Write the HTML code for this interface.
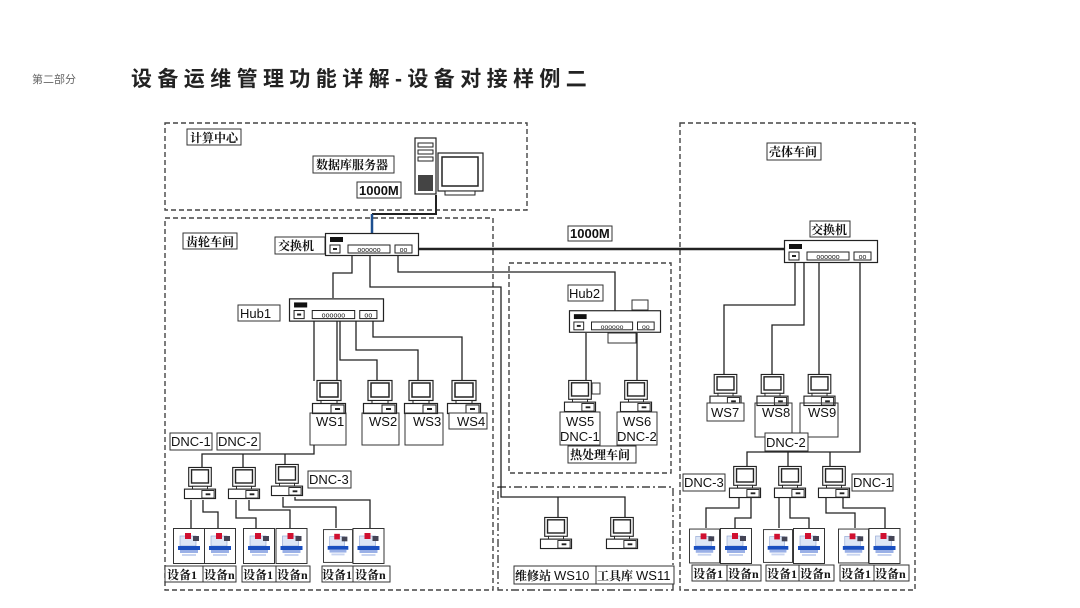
<!DOCTYPE html>
<html><head><meta charset="utf-8"><style>
html,body{margin:0;padding:0;background:#fff;width:1080px;height:608px;overflow:hidden}
svg{display:block}
.t{font-family:"Liberation Serif","Noto Serif CJK SC",serif;font-size:12px;font-weight:bold;fill:#111}
.e{font-family:"Liberation Sans","Noto Sans CJK SC",sans-serif;font-size:13px;fill:#111}
.lb{fill:#fff;stroke:#333;stroke-width:1}
.ln{fill:none;stroke:#222;stroke-width:1.3}
.dash{fill:none;stroke:#444;stroke-width:1.4;stroke-dasharray:5 3}
</style></head><body>
<svg width="1080" height="608" viewBox="0 0 1080 608" xmlns="http://www.w3.org/2000/svg">
<defs>
<symbol id="pc" viewBox="0 0 34 34" overflow="visible">
<rect x="5" y="0.5" width="24" height="20" fill="#fff" stroke="#222" stroke-width="1.2"/>
<rect x="8" y="3" width="18" height="14" fill="#fff" stroke="#222" stroke-width="1.5"/>
<rect x="9" y="20.5" width="16" height="3" fill="#fff" stroke="#222"/>
<rect x="0.5" y="23.5" width="33" height="10" fill="#fff" stroke="#222" stroke-width="1.2"/>
<rect x="19" y="25" width="13" height="8" fill="#fff" stroke="#222"/>
<rect x="23" y="28" width="5" height="2" fill="#222"/>
</symbol>
<symbol id="mc" viewBox="0 0 32 36" overflow="visible">
<rect x="0.5" y="0.5" width="31" height="35" fill="#fff" stroke="#333"/>
<rect x="7" y="8" width="16" height="10" fill="#dde6f6" stroke="#8aa0d0" stroke-width="0.6"/>
<rect x="12" y="5" width="6" height="6" fill="#d01030"/>
<rect x="20" y="8" width="6" height="5" fill="#445"/>
<rect x="5" y="18" width="22" height="4" fill="#1a4fc0"/>
<rect x="7" y="22" width="18" height="3" fill="#9ab0e6"/>
<rect x="9" y="26" width="14" height="2" fill="#c8d4f0"/>
</symbol>
<symbol id="sw" viewBox="0 0 94 23" overflow="visible">
<rect x="0.5" y="0.5" width="93" height="22" fill="#fff" stroke="#222" stroke-width="1.2"/>
<rect x="5" y="4" width="13" height="5" fill="#111"/>
<rect x="5" y="12" width="10" height="8" fill="#fff" stroke="#222"/>
<rect x="8" y="15" width="4" height="2" fill="#222"/>
<rect x="23" y="12" width="42" height="8" fill="#fff" stroke="#222"/>
<text x="44" y="19" font-size="7" text-anchor="middle" font-family="Liberation Sans" fill="#222">oooooo</text>
<rect x="70" y="12" width="17" height="8" fill="#fff" stroke="#222"/>
<text x="78.5" y="19" font-size="7" text-anchor="middle" font-family="Liberation Sans" fill="#222">oo</text>
</symbol>
</defs>

<text x="32" y="83" font-family="Liberation Sans,Noto Sans CJK SC,sans-serif" font-size="11" fill="#666">第二部分</text>
<text x="131" y="86" font-family="Liberation Sans,Noto Sans CJK SC,sans-serif" font-size="21" font-weight="bold" letter-spacing="5.4" fill="#222">设备运维管理功能详解-设备对接样例二</text>

<!-- dashed regions -->
<rect class="dash" x="165" y="123" width="362" height="87"/>
<rect class="dash" x="165" y="218" width="328" height="372"/>
<rect class="dash" x="509" y="263" width="162" height="210"/>
<rect class="dash" x="498" y="487" width="175" height="103" style="stroke-dasharray:8 3 2 3"/>
<rect class="dash" x="680" y="123" width="235" height="467"/>

<!-- 计算中心 -->
<rect class="lb" x="187" y="129" width="54" height="16"/><text class="t" x="190" y="142">计算中心</text>
<rect class="lb" x="313" y="156" width="81" height="17"/><text class="t" x="316" y="169">数据库服务器</text>
<rect class="lb" x="357" y="182" width="44" height="16"/><text class="e" x="359" y="195" font-weight="bold" font-size="12">1000M</text>
<rect x="415" y="138" width="21" height="56" fill="#fff" stroke="#222" stroke-width="1.2"/>
<rect x="418" y="143" width="15" height="4" fill="#fff" stroke="#222"/>
<rect x="418" y="150" width="15" height="4" fill="#fff" stroke="#222"/>
<rect x="418" y="157" width="15" height="4" fill="#fff" stroke="#222"/>
<rect x="418" y="175" width="15" height="16" fill="#444"/>
<rect x="438" y="153" width="45" height="38" fill="#fff" stroke="#222" stroke-width="1.2"/>
<rect x="442" y="157" width="36" height="29" fill="#fff" stroke="#222" stroke-width="1.5"/>
<rect x="445" y="191" width="30" height="4" fill="#fff" stroke="#222"/>
<polyline class="ln" points="436,195 436,214 372,214" style="stroke-width:2"/>
<line x1="372" y1="214" x2="372" y2="234" stroke="#1d4f8f" stroke-width="2.5"/>

<!-- 齿轮车间 -->
<rect class="lb" x="183" y="233" width="54" height="16"/><text class="t" x="186" y="246">齿轮车间</text>
<rect class="lb" x="275" y="237" width="50" height="17"/><text class="t" x="278" y="250">交换机</text>
<use href="#sw" x="325" y="233" width="94" height="23"/>
<line x1="418" y1="249" x2="785" y2="249" stroke="#222" stroke-width="2.5"/>
<rect class="lb" x="568" y="226" width="44" height="15"/><text class="e" x="570" y="238" font-weight="bold" font-size="12">1000M</text>

<polyline class="ln" points="352,256 352,273 333,273 333,298"/>
<polyline class="ln" points="370,256 370,287 501,287 501,497 625,497 625,518"/>
<line class="ln" x1="558" y1="497" x2="558" y2="518"/>
<polyline class="ln" points="398,256 398,272 615,272 615,311"/>

<rect class="lb" x="238" y="305" width="42" height="16"/><text class="e" x="240" y="318">Hub1</text>
<use href="#sw" x="289" y="298" width="95" height="24"/>
<polyline class="ln" points="314,321 314,381"/>
<polyline class="ln" points="337,321 337,381"/>
<polyline class="ln" points="340,321 340,360 377,360 377,381"/>
<polyline class="ln" points="356,321 356,350 418,350 418,381"/>
<polyline class="ln" points="373,321 373,337 462,337 462,381"/>
<use href="#pc" x="312" y="380" width="34" height="34"/>
<use href="#pc" x="363" y="380" width="34" height="34"/>
<use href="#pc" x="404" y="380" width="34" height="34"/>
<use href="#pc" x="447" y="380" width="34" height="34"/>
<rect class="lb" x="310" y="413" width="36" height="32" style="fill:none"/><text class="e" x="316" y="426" font-size="14">WS1</text>
<rect class="lb" x="362" y="413" width="37" height="32" style="fill:none"/><text class="e" x="369" y="426" font-size="14">WS2</text>
<rect class="lb" x="405" y="413" width="38" height="32" style="fill:none"/><text class="e" x="413" y="426" font-size="14">WS3</text>
<rect class="lb" x="449" y="413" width="38" height="16"/><text class="e" x="457" y="426" font-size="14">WS4</text>

<polyline class="ln" points="314,445 314,454 202,454 202,467"/>
<line class="ln" x1="243" y1="454" x2="243" y2="467"/>
<line class="ln" x1="285" y1="454" x2="285" y2="464"/>
<rect class="lb" x="170" y="433" width="42" height="17"/><text class="e" x="171" y="446">DNC-1</text>
<rect class="lb" x="217" y="433" width="43" height="17"/><text class="e" x="218" y="446">DNC-2</text>
<rect class="lb" x="308" y="471" width="43" height="17"/><text class="e" x="309" y="484">DNC-3</text>
<use href="#pc" x="184" y="466" width="32" height="34"/>
<use href="#pc" x="228" y="466" width="32" height="34"/>
<use href="#pc" x="271" y="463" width="32" height="34"/>
<polyline class="ln" points="191,500 191,528"/>
<polyline class="ln" points="203,500 203,512 218,512 218,528"/>
<polyline class="ln" points="236,500 236,518 256,518 256,528"/>
<polyline class="ln" points="249,500 249,510 290,510 290,528"/>
<polyline class="ln" points="283,497 283,507 336,507 336,528"/>
<polyline class="ln" points="295,497 295,500 370,500 370,528"/>
<use href="#mc" x="173" y="528" width="32" height="36"/>
<use href="#mc" x="204" y="528" width="32" height="36"/>
<use href="#mc" x="243" y="528" width="32" height="36"/>
<use href="#mc" x="275" y="528" width="33" height="36"/>
<use href="#mc" x="323" y="528" width="30" height="36"/>
<use href="#mc" x="352" y="528" width="33" height="36"/>
<g>
<rect class="lb" x="165" y="566" width="38" height="16"/><text class="t" x="167" y="579">设备1</text>
<rect class="lb" x="203" y="566" width="33" height="16"/><text class="t" x="204" y="579">设备n</text>
<rect class="lb" x="242" y="566" width="34" height="16"/><text class="t" x="243" y="579">设备1</text>
<rect class="lb" x="276" y="566" width="34" height="16"/><text class="t" x="277" y="579">设备n</text>
<rect class="lb" x="322" y="566" width="31" height="16"/><text class="t" x="322" y="579">设备1</text>
<rect class="lb" x="353" y="566" width="37" height="16"/><text class="t" x="355" y="579">设备n</text>
</g>

<!-- 热处理车间 -->
<rect class="lb" x="568" y="285" width="35" height="16"/><text class="e" x="569" y="298">Hub2</text>
<rect class="lb" x="632" y="300" width="16" height="10"/>
<use href="#sw" x="569" y="310" width="92" height="23"/>
<rect class="lb" x="608" y="333" width="28" height="10" style="fill:none"/>
<line class="ln" x1="586" y1="333" x2="586" y2="381"/>
<line class="ln" x1="637" y1="333" x2="637" y2="381"/>
<rect class="lb" x="592" y="383" width="8" height="11"/>
<use href="#pc" x="564" y="380" width="32" height="32"/>
<use href="#pc" x="620" y="380" width="32" height="32"/>
<rect class="lb" x="560" y="412" width="40" height="33"/><text class="e" x="566" y="426" font-size="14">WS5</text><text class="e" x="560" y="441" font-size="14">DNC-1</text>
<rect class="lb" x="617" y="412" width="40" height="33"/><text class="e" x="623" y="426" font-size="14">WS6</text><text class="e" x="617" y="441" font-size="14">DNC-2</text>
<rect class="lb" x="568" y="446" width="68" height="17"/><text class="t" x="570" y="459">热处理车间</text>

<!-- maintenance -->
<use href="#pc" x="540" y="516" width="32" height="34"/>
<use href="#pc" x="606" y="516" width="32" height="34"/>
<rect class="lb" x="514" y="566" width="82" height="18"/><text class="t" x="515" y="580">维修站 <tspan class="e" style="font-weight:normal" font-size="13">WS10</tspan></text>
<rect class="lb" x="596" y="566" width="78" height="18"/><text class="t" x="597" y="580">工具库 <tspan class="e" style="font-weight:normal" font-size="13">WS11</tspan></text>

<!-- 壳体车间 -->
<rect class="lb" x="767" y="143" width="54" height="17"/><text class="t" x="769" y="156">壳体车间</text>
<rect class="lb" x="810" y="221" width="40" height="16"/><text class="t" x="811" y="234">交换机</text>
<use href="#sw" x="784" y="240" width="94" height="23"/>
<polyline class="ln" points="795,262 795,305 724,305 724,375"/>
<polyline class="ln" points="804,262 804,325 772,325 772,375"/>
<line class="ln" x1="819" y1="262" x2="819" y2="375"/>
<polyline class="ln" points="860,262 860,452 747,452 747,467"/>
<line class="ln" x1="788" y1="452" x2="788" y2="467"/>
<line class="ln" x1="830" y1="452" x2="830" y2="467"/>
<use href="#pc" x="709" y="374" width="33" height="32"/>
<use href="#pc" x="756" y="374" width="33" height="32"/>
<use href="#pc" x="803" y="374" width="33" height="32"/>
<rect class="lb" x="707" y="403" width="37" height="18"/><text class="e" x="711" y="417" font-size="14">WS7</text>
<rect class="lb" x="755" y="403" width="37" height="34" style="fill:none"/><text class="e" x="762" y="417" font-size="14">WS8</text>
<rect class="lb" x="800" y="403" width="38" height="34" style="fill:none"/><text class="e" x="808" y="417" font-size="14">WS9</text>
<rect class="lb" x="765" y="433" width="43" height="18"/><text class="e" x="766" y="447" font-size="14">DNC-2</text>
<rect class="lb" x="683" y="474" width="42" height="17"/><text class="e" x="684" y="487" font-size="14">DNC-3</text>
<rect class="lb" x="852" y="474" width="41" height="17"/><text class="e" x="853" y="487" font-size="14">DNC-1</text>
<use href="#pc" x="729" y="466" width="32" height="32"/>
<use href="#pc" x="774" y="466" width="32" height="32"/>
<use href="#pc" x="818" y="466" width="32" height="32"/>
<polyline class="ln" points="739,498 739,508 706,508 706,528"/>
<polyline class="ln" points="751,498 751,518 735,518 735,528"/>
<line class="ln" x1="779" y1="498" x2="779" y2="528"/>
<polyline class="ln" points="790,498 790,518 809,518 809,528"/>
<polyline class="ln" points="826,498 826,513 855,513 855,528"/>
<polyline class="ln" points="843,498 843,508 885,508 885,528"/>
<use href="#mc" x="689" y="528" width="31" height="36"/>
<use href="#mc" x="719" y="528" width="34" height="36"/>
<use href="#mc" x="763" y="528" width="30" height="36"/>
<use href="#mc" x="792" y="528" width="34" height="36"/>
<use href="#mc" x="838" y="528" width="31" height="36"/>
<use href="#mc" x="868" y="528" width="33" height="36"/>
<rect class="lb" x="692" y="565" width="35" height="16"/><text class="t" x="693" y="578">设备1</text>
<rect class="lb" x="727" y="565" width="34" height="16"/><text class="t" x="728" y="578">设备n</text>
<rect class="lb" x="766" y="565" width="33" height="16"/><text class="t" x="767" y="578">设备1</text>
<rect class="lb" x="799" y="565" width="35" height="16"/><text class="t" x="800" y="578">设备n</text>
<rect class="lb" x="840" y="565" width="34" height="16"/><text class="t" x="841" y="578">设备1</text>
<rect class="lb" x="874" y="565" width="35" height="16"/><text class="t" x="875" y="578">设备n</text>
</svg>
</body></html>
